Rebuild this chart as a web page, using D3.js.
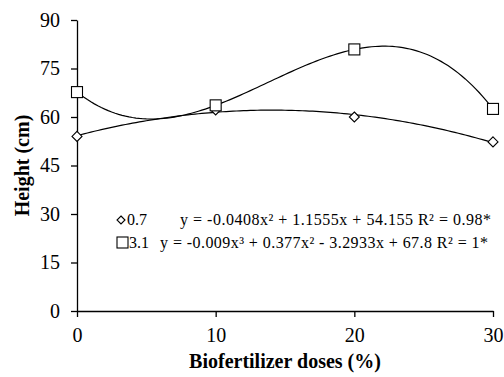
<!DOCTYPE html>
<html><head><meta charset="utf-8">
<script src="https://cdn.jsdelivr.net/npm/d3@7"></script>
<style>html,body{margin:0;padding:0;background:#fff}</style>
</head><body>
<svg id="c" width="504" height="377"></svg>
<script>
const doses = [0, 10, 20, 30];
const series07 = [54.0, 62.2, 60.0, 52.3];
const series31 = [67.7, 63.6, 80.9, 62.5];
const yTicks = [0, 15, 30, 45, 60, 75, 90];
const xTicks = [0, 10, 20, 30];
const legendNames = ["0.7", "3.1"];
const equations = [
  "y = -0.0408x² + 1.1555x + 54.155 R² = 0.98*",
  "y = -0.009x³ + 0.377x² - 3.2933x + 67.8 R² = 1*"
];

function polyfit(xs, ys, deg) {
  const n = deg + 1;
  const A = Array.from({length: n}, () => new Array(n + 1).fill(0));
  for (let r = 0; r < n; r++) {
    for (let c = 0; c < n; c++) A[r][c] = d3.sum(xs, x => Math.pow(x, r + c));
    A[r][n] = d3.sum(xs, (x, i) => ys[i] * Math.pow(x, r));
  }
  for (let i = 0; i < n; i++) {
    let p = i;
    for (let k = i + 1; k < n; k++) if (Math.abs(A[k][i]) > Math.abs(A[p][i])) p = k;
    [A[i], A[p]] = [A[p], A[i]];
    for (let k = i + 1; k < n; k++) {
      const f = A[k][i] / A[i][i];
      for (let j = i; j <= n; j++) A[k][j] -= f * A[i][j];
    }
  }
  const co = new Array(n).fill(0);
  for (let i = n - 1; i >= 0; i--) {
    let s = A[i][n];
    for (let j = i + 1; j < n; j++) s -= A[i][j] * co[j];
    co[i] = s / A[i][i];
  }
  return x => co.reduce((a, c, i) => a + c * Math.pow(x, i), 0);
}

const svg = d3.select("#c");
const L = 77, R = 493, T = 20, B = 311;
const x = d3.scaleLinear().domain([0, 30]).range([L, R]);
const y = d3.scaleLinear().domain([0, 90]).range([B, T]);
const serif = "'Liberation Serif','Times New Roman',serif";

const yAxis = svg.append("g").attr("transform", `translate(${L},0)`)
  .call(d3.axisLeft(y).tickValues(yTicks).tickSize(6).tickSizeOuter(0).tickPadding(11));
const xAxis = svg.append("g").attr("transform", `translate(0,${B})`)
  .call(d3.axisBottom(x).tickValues(xTicks).tickSize(6).tickSizeOuter(0).tickPadding(11));
[xAxis, yAxis].forEach(g => {
  g.selectAll("path,line").attr("stroke", "#000").attr("stroke-width", 1.3);
  g.selectAll("text").attr("font-family", serif).attr("font-size", 20).attr("fill", "#000");
});

const xs = d3.range(0, 30.001, 0.25);
const fits = [polyfit(doses, series07, 2), polyfit(doses, series31, 3)];
const line = d3.line().x(d => x(d[0])).y(d => y(d[1]));
fits.forEach(f => {
  svg.append("path").attr("d", line(xs.map(v => [v, f(v)])))
    .attr("fill", "none").attr("stroke", "#000").attr("stroke-width", 1.2);
});

const diamond = (cx, cy, s) => `M${cx},${cy - s}L${cx + s},${cy}L${cx},${cy + s}L${cx - s},${cy}Z`;
series07.forEach((v, i) => {
  svg.append("path").attr("d", diamond(x(doses[i]), y(v), 5))
    .attr("fill", "#fff").attr("stroke", "#000").attr("stroke-width", 1.1);
});
series31.forEach((v, i) => {
  svg.append("rect").attr("x", x(doses[i]) - 5.5).attr("y", y(v) - 5.5)
    .attr("width", 11).attr("height", 11)
    .attr("fill", "#fff").attr("stroke", "#000").attr("stroke-width", 1.1);
});

// legend
svg.append("path").attr("d", diamond(121, 220, 4))
  .attr("fill", "#fff").attr("stroke", "#000").attr("stroke-width", 1.1);
svg.append("rect").attr("x", 117).attr("y", 237).attr("width", 11).attr("height", 11)
  .attr("fill", "#fff").attr("stroke", "#000").attr("stroke-width", 1.1);
svg.append("text").attr("x", 127).attr("y", 225).text(legendNames[0])
  .attr("font-family", serif).attr("font-size", 16);
svg.append("text").attr("x", 129).attr("y", 248).text(legendNames[1])
  .attr("font-family", serif).attr("font-size", 16);

svg.append("text").attr("x", 180).attr("y", 225).text(equations[0])
  .attr("font-family", serif).attr("font-size", 16)
  .attr("textLength", 311).attr("lengthAdjust", "spacing");
svg.append("text").attr("x", 160).attr("y", 248).text(equations[1])
  .attr("font-family", serif).attr("font-size", 16)
  .attr("textLength", 328).attr("lengthAdjust", "spacing");

svg.append("text").attr("x", (L + R) / 2).attr("y", 368).attr("text-anchor", "middle")
  .attr("font-family", serif).attr("font-size", 20).attr("font-weight", "bold")
  .text("Biofertilizer doses (%)");
svg.append("text").attr("transform", `translate(29,${(T + B) / 2}) rotate(-90)`)
  .attr("text-anchor", "middle")
  .attr("font-family", serif).attr("font-size", 20).attr("font-weight", "bold")
  .text("Height (cm)");
</script>
</body></html>
